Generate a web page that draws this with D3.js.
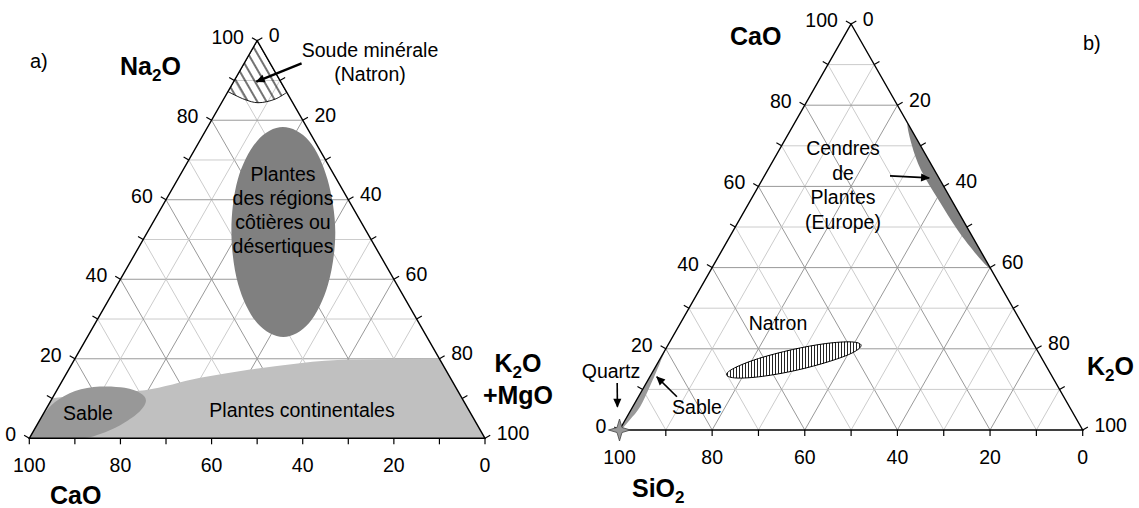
<!DOCTYPE html>
<html>
<head>
<meta charset="utf-8">
<script src="https://cdn.jsdelivr.net/npm/d3@7/dist/d3.min.js"></script>
<style>
  body { margin: 0; background: #fff; }
  text { font-family: "Liberation Sans", Arial, sans-serif; fill: #000; }
</style>
</head>
<body>
<div id="chart"></div>
<script>
// ---- data, all values in % ----
const tickSteps = [0, 10, 20, 30, 40, 50, 60, 70, 80, 90, 100];
const labelSteps = [0, 20, 40, 60, 80, 100];
const gridSteps = [10, 20, 30, 40, 50, 60, 70, 80, 90];

// a) points are [Na2O, K2O+MgO, CaO]
// lower boundary of the natron field, the field runs up to the Na2O apex
const soudeMinerale = [[87.2, 0, 12.8], [85.2, 4.7, 10.1], [84.4, 8.0, 7.6], [85.3, 11.3, 3.4], [87.0, 13.0, 0]];
const plantesCotieres = [[51.9, 41.2, 6.9], [65.1, 32.9, 2.0], [74.8, 24.0, 1.2], [78.3, 16.5, 5.2],
  [74.8, 12.6, 12.6], [65.1, 13.2, 21.7], [51.9, 18.4, 29.7], [38.7, 26.5, 34.8],
  [29.0, 35.5, 35.5], [25.5, 43.0, 31.5], [29.0, 46.9, 24.1], [38.7, 46.2, 15.1]];
const sableA = [[0.2, 0, 99.8], [5.4, 0.1, 94.5], [9.1, 1.1, 89.8], [11.9, 4.1, 84.0], [13.0, 9.0, 78.0],
  [12.7, 14.6, 72.7], [11.4, 18.6, 70.0], [9.4, 20.9, 69.7], [6.4, 20.7, 72.9], [3.3, 18.3, 78.4],
  [1.1, 15.0, 83.9], [0, 11.1, 88.9]];
// upper boundary of the continental plants field, the field runs down to the CaO side
const plantesContinentales = [[10.1, 0, 89.9], [11.4, 9.8, 78.8], [12.1, 19.3, 68.6], [15.2, 29.9, 54.9],
  [17.3, 39.8, 42.9], [18.9, 49.9, 31.2], [19.8, 60.5, 19.7], [20.0, 80.0, 0]];

// b) points are [CaO, K2O, SiO2]
const cendresEurope = [[75.4, 24.6, 0], [70.2, 28.0, 1.8], [64.0, 33.1, 2.9], [56.7, 40.5, 2.8],
  [49.3, 48.3, 2.4], [43.1, 55.6, 1.3], [39.9, 60.1, 0], [48, 52, 0], [58, 42, 0], [68, 32, 0]];
const natronB = [[20.9, 41.7, 37.4], [19.1, 40.9, 40.0], [16.9, 36.9, 46.2], [14.7, 30.8, 54.5],
  [13.2, 24.2, 62.6], [12.8, 18.9, 68.3], [13.6, 16.3, 70.1], [15.3, 17.2, 67.5],
  [17.6, 21.2, 61.2], [19.8, 27.4, 52.8], [21.3, 33.9, 44.8], [21.7, 39.2, 39.1]];
const sableB = [[19.5, 0, 80.5], [16.4, 0.5, 83.1], [10.7, 1.2, 88.1], [5.7, 1.6, 92.7],
  [2.5, 1.0, 96.5], [0, 0.2, 99.8], [5, 0, 95], [12, 0, 88]];
const quartz = [0, 0, 100];

const width = 1139, height = 508;

const svg = d3.select("#chart").append("svg")
  .attr("width", width)
  .attr("height", height);

const defs = svg.append("defs");

// hatch for the natron field in a)
defs.append("pattern")
  .attr("id", "hatchDiag")
  .attr("patternUnits", "userSpaceOnUse")
  .attr("width", 8).attr("height", 8)
  .attr("patternTransform", "rotate(-30)")
  .append("line")
  .attr("x1", 4).attr("y1", 0).attr("x2", 4).attr("y2", 8)
  .attr("stroke", "#000").attr("stroke-width", 1.1);

// dense vertical hatch for natron in b)
const pv = defs.append("pattern")
  .attr("id", "hatchVert")
  .attr("patternUnits", "userSpaceOnUse")
  .attr("width", 3).attr("height", 3);
pv.append("rect").attr("width", 3).attr("height", 3).attr("fill", "#fff");
pv.append("line")
  .attr("x1", 1.5).attr("y1", 0).attr("x2", 1.5).attr("y2", 3)
  .attr("stroke", "#222").attr("stroke-width", 1);

defs.append("marker")
  .attr("id", "arrow")
  .attr("viewBox", "0 0 10 10")
  .attr("refX", 9).attr("refY", 5)
  .attr("markerWidth", 11).attr("markerHeight", 9)
  .attr("markerUnits", "userSpaceOnUse")
  .attr("orient", "auto")
  .append("path")
  .attr("d", "M0,0.5 L10,5 L0,9.5 Z")
  .attr("fill", "#000");

// a point [top, right, left] -> pixel, through two linear scales
function ternary(box) {
  let xScale = d3.scaleLinear().domain([0, 100]).range([box.left, box.right]);
  let yScale = d3.scaleLinear().domain([0, 100]).range([box.bottom, box.top]);
  return d => [xScale(d[1] + d[0] / 2), yScale(d[0])];
}

function drawGrid(g, pos) {
  gridSteps.forEach(v => {
    const segs = [
      [[v, 0, 100 - v], [v, 100 - v, 0]],
      [[0, v, 100 - v], [100 - v, v, 0]],
      [[0, 100 - v, v], [100 - v, 0, v]]
    ];
    segs.forEach(s => {
      const a = pos(s[0]), b = pos(s[1]);
      g.append("line")
        .attr("x1", a[0]).attr("y1", a[1])
        .attr("x2", b[0]).attr("y2", b[1])
        .attr("stroke", v % 20 === 0 ? "#999" : "#cccccc")
        .attr("stroke-width", 1);
    });
  });
}

function drawFrame(g, pos) {
  const c = [pos([100, 0, 0]), pos([0, 100, 0]), pos([0, 0, 100])];
  g.append("path")
    .attr("d", "M" + c.join("L") + "Z")
    .attr("fill", "none")
    .attr("stroke", "#000")
    .attr("stroke-width", 1.4);

  const sides = [
    { pt: v => pos([v, 0, 100 - v]), dir: [-0.866, -0.5], anchor: "end", dx: -8, dy: 6 },
    { pt: v => pos([100 - v, v, 0]), dir: [0.866, -0.5], anchor: "start", dx: 6.5, dy: 4.5 },
    { pt: v => pos([0, 100 - v, v]), dir: [0, 1], anchor: "middle", dx: 0, dy: 28 }
  ];
  sides.forEach(s => {
    tickSteps.forEach(v => {
      const p = s.pt(v);
      g.append("line")
        .attr("x1", p[0]).attr("y1", p[1])
        .attr("x2", p[0] + s.dir[0] * 6).attr("y2", p[1] + s.dir[1] * 6)
        .attr("stroke", "#000").attr("stroke-width", 1.2);
    });
    labelSteps.forEach(v => {
      const p = s.pt(v);
      g.append("text")
        .attr("x", p[0] + s.dir[0] * 6 + s.dx)
        .attr("y", p[1] + s.dir[1] * 6 + s.dy)
        .attr("text-anchor", s.anchor)
        .attr("font-size", "19.5px")
        .text(v);
    });
  });
}

function clipFor(id, pos) {
  const c = [pos([100, 0, 0]), pos([0, 100, 0]), pos([0, 0, 100])];
  defs.append("clipPath").attr("id", id)
    .append("path").attr("d", "M" + c.join("L") + "Z");
}

function arrow(g, pos, from, to, w) {
  const a = pos(from), b = pos(to);
  g.append("line")
    .attr("x1", a[0]).attr("y1", a[1])
    .attr("x2", b[0]).attr("y2", b[1])
    .attr("stroke", "#000").attr("stroke-width", w)
    .attr("marker-end", "url(#arrow)");
}

function label(g, x, y, lines, step) {
  const t = g.append("text")
    .attr("text-anchor", "middle")
    .attr("font-size", "19.5px");
  lines.forEach((l, i) => {
    t.append("tspan").attr("x", x).attr("y", y + i * step).text(l);
  });
}

// bold oxide name, parts = [text, subscript, text, ...]
function chemTitle(g, x, y, parts, anchor) {
  const t = g.append("text")
    .attr("x", x).attr("y", y)
    .attr("text-anchor", anchor || "start")
    .attr("font-size", "25px")
    .attr("font-weight", "bold");
  parts.forEach((p, i) => {
    if (!p) return;
    const s = t.append("tspan").text(p);
    if (i % 2 === 1) s.attr("font-size", "17px").attr("dy", 6);
    else if (i > 0) s.attr("dy", -6);
  });
  return t;
}

const closed = d3.line().curve(d3.curveCardinalClosed.tension(0));

// ---------------- a) ----------------
const posA = ternary({ left: 29.3, right: 485, bottom: 438.3, top: 40.7 });
const gA = svg.append("g");
clipFor("clipA", posA);
drawGrid(gA, posA);

const regA = gA.append("g").attr("clip-path", "url(#clipA)");

// continental plants: curved upper boundary, then the K2O+MgO and CaO corners
let topLine = d3.line().curve(d3.curveMonotoneX)(plantesContinentales.map(posA));
regA.append("path")
  .attr("d", topLine + "L" + posA([0, 100, 0]) + "L" + posA([0, 0, 100]) + "Z")
  .attr("fill", "#c0c0c0");

regA.append("path")
  .attr("d", closed(sableA.map(posA)))
  .attr("fill", "#989898");

regA.append("path")
  .attr("d", closed(plantesCotieres.map(posA)))
  .attr("fill", "#808080");

let lowLine = d3.line().curve(d3.curveCatmullRom)(soudeMinerale.map(posA));
regA.append("path")
  .attr("d", lowLine + "L" + posA([100, 0, 0]) + "Z")
  .attr("fill", "url(#hatchDiag)")
  .attr("stroke", "#000")
  .attr("stroke-width", 0.9);

drawFrame(gA, posA);

gA.append("text").attr("x", 30).attr("y", 68).attr("font-size", "20px").text("a)");
chemTitle(gA, 120, 75, ["Na", "2", "O"]);
chemTitle(gA, 50, 504, ["CaO"]);
chemTitle(gA, 518, 372, ["K", "2", "O"], "middle");
chemTitle(gA, 518, 404, ["+MgO"], "middle");

label(gA, 370, 57, ["Soude minérale", "(Natron)"], 23.5);
arrow(gA, posA, [94.3, 12.6, -6.9], [89.7, 5.0, 5.3], 2.4);
label(gA, 283, 181, ["Plantes", "des régions", "côtières ou", "désertiques"], 24);
label(gA, 88, 420, ["Sable"], 24);
label(gA, 302, 417, ["Plantes continentales"], 24);

// ---------------- b) ----------------
const posB = ternary({ left: 619.5, right: 1082.7, bottom: 430, top: 24 });
const gB = svg.append("g");
clipFor("clipB", posB);
drawGrid(gB, posB);

const regB = gB.append("g").attr("clip-path", "url(#clipB)");

regB.append("path")
  .attr("d", closed(cendresEurope.map(posB)))
  .attr("fill", "#808080");

regB.append("path")
  .attr("d", closed(sableB.map(posB)))
  .attr("fill", "#999");

gB.append("path")
  .attr("d", closed(natronB.map(posB)))
  .attr("fill", "url(#hatchVert)")
  .attr("stroke", "#000")
  .attr("stroke-width", 1);

drawFrame(gB, posB);

// quartz: four-pointed star on the SiO2 corner
let q = posB(quartz);
let star = d3.path();
[[0, -11], [2.5, -2.5], [11, 0], [2.5, 2.5], [0, 11], [-2.5, 2.5], [-11, 0], [-2.5, -2.5]].forEach((s, i) => {
  if (i === 0) star.moveTo(q[0] + s[0], q[1] + s[1]);
  else star.lineTo(q[0] + s[0], q[1] + s[1]);
});
star.closePath();
gB.append("path")
  .attr("d", star.toString())
  .attr("fill", "#999")
  .attr("stroke", "#444")
  .attr("stroke-width", 0.8);

gB.append("text").attr("x", 1083).attr("y", 50).attr("font-size", "20px").text("b)");
chemTitle(gB, 730, 45, ["CaO"]);
chemTitle(gB, 632, 497, ["SiO", "2"]);
chemTitle(gB, 1087, 375, ["K", "2", "O"]);

label(gB, 843, 155, ["Cendres", "de", "Plantes", "(Europe)"], 24.5);
arrow(gB, posB, [62.6, 27.1, 10.3], [62.1, 35.8, 2.1], 1.6);
label(gB, 778, 330, ["Natron"], 24);
label(gB, 611, 378, ["Quartz"], 24);
arrow(gB, posB, [11.6, -6.3, 94.7], [5.7, -3.3, 97.6], 1.6);
label(gB, 697, 414, ["Sable"], 24);
arrow(gB, posB, [8.2, 8.3, 83.5], [13.1, 1.5, 85.4], 1.6);
</script>
</body>
</html>
